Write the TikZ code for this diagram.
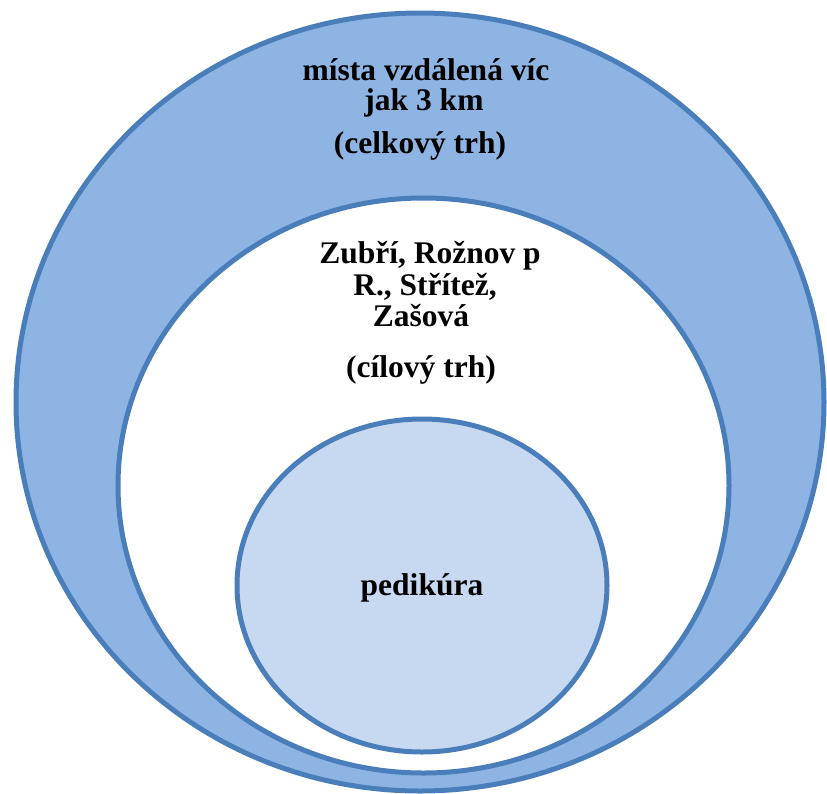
\documentclass[tikz,border=0pt]{standalone}
\usepackage{fontspec}
\setmainfont{Liberation Serif}
\usetikzlibrary{shapes.geometric}
\definecolor{ringfill}{HTML}{8EB4E3}
\definecolor{ringline}{HTML}{4A7EBB}
\definecolor{corefill}{HTML}{C6D9F1}
\begin{document}
\begin{tikzpicture}[x=1pt,y=-1pt,
  ring/.style={ellipse, draw=ringline, line width=5pt, inner sep=0pt, outer sep=0pt},
  lbl/.style={font=\fontsize{31.5}{31}\selectfont\bfseries, anchor=base, inner sep=0pt}]
\useasboundingbox (0,0) rectangle (827,793);
\node[ring, fill=ringfill, minimum width=808pt, minimum height=778pt] (outer) at (420,402) {};
\node[ring, fill=white, minimum width=611pt, minimum height=575pt] (middle) at (423.5,485.5) {};
\node[ring, fill=corefill, minimum width=370pt, minimum height=333pt] (core) at (422,585.5) {};
\node[lbl] (o1) at (426,80) {místa vzdálená víc};
\node[lbl] (o2) at (424,110) {jak 3 km};
\node[lbl] (o3) at (420,153) {(celkový trh)};
\node[lbl] (m1) at (430,263) {Zubří, Rožnov p};
\node[lbl] (m2) at (425,295) {R., Střítež,};
\node[lbl] (m3) at (421,326) {Zašová};
\node[lbl] (m4) at (421,377) {(cílový trh)};
\node[lbl] (c1) at (422,595) {pedikúra};
\end{tikzpicture}
\end{document}
